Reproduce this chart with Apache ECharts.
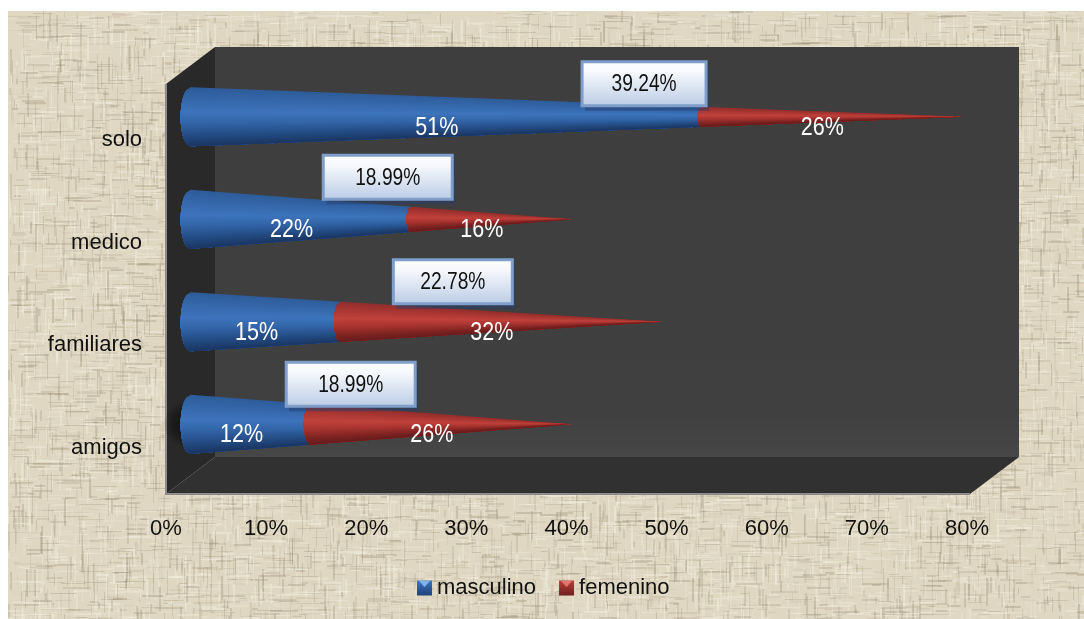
<!DOCTYPE html>
<html>
<head>
<meta charset="utf-8">
<title>masculino / femenino</title>
<style>
  html, body { margin: 0; padding: 0; background: #ffffff; }
  #linen { position: absolute; left: 8px; top: 11px; width: 1076px; height: 608px; }
  #chart { position: absolute; left: 0; top: 0; width: 1084px; height: 619px; }
</style>
<script src="https://cdn.jsdelivr.net/npm/echarts@6/dist/echarts.min.js"></script>
</head>
<body>
<div id="linen"></div>
<div id="chart"></div>
<script>
// Categories run bottom to top on the value chart.
const categories = ['amigos', 'familiares', 'medico', 'solo'];
const masculino = [12, 15, 22, 51];
const femenino = [26, 32, 16, 26];
const totals = [18.99, 22.78, 18.99, 39.24];
const percentTicks = [0, 10, 20, 30, 40, 50, 60, 70, 80];

// Box depth of the 3D plot, in pixels.
const DEPTH_X = 49;
const DEPTH_Y = 37;
const CONE_RADIUS_RATIO = 29.5 / 102.5;
const BASE_ELLIPSE = 10 / 30;
const FONT = '"Liberation Sans", Arial, sans-serif';

// Shading ramps across a cone, top edge to bottom edge.
const BLUE_RAMP = [[0, [46, 92, 154]], [0.22, [54, 104, 172]], [0.42, [62, 116, 188]], [0.62, [50, 100, 166]], [0.85, [34, 72, 126]], [1, [26, 54, 98]]];
const RED_RAMP = [[0, [146, 46, 44]], [0.22, [172, 56, 52]], [0.42, [192, 66, 60]], [0.62, [168, 52, 48]], [0.85, [126, 36, 34]], [1, [104, 28, 28]]];

// Callout placement relative to each cone.
const CALLOUT_BOXES = [
  { center: 16.0, rise: 40, width: 129 },
  { center: 26.2, rise: 40, width: 119 },
  { center: 19.7, rise: 42, width: 129 },
  { center: 45.3, rise: 33, width: 124 }
];
const CALLOUT_HEIGHT = 44;

function rampColor(ramp, t) {
  for (let i = 1; i < ramp.length; i++) {
    if (t <= ramp[i][0]) {
      const a = ramp[i - 1], b = ramp[i];
      const k = (t - a[0]) / (b[0] - a[0]);
      const c = a[1].map((v, j) => Math.round(v + (b[1][j] - v) * k));
      return 'rgb(' + c.join(',') + ')';
    }
  }
  return 'rgb(' + ramp[ramp.length - 1][1].join(',') + ')';
}

// One stretch of a cone lying along the value axis, shaded in strips that converge on the apex.
function coneSection(x0, x1, cy, apex, originX, radius, ramp) {
  const strips = 30;
  const r0 = radius * (apex - x0) / (apex - originX);
  const r1 = radius * (apex - x1) / (apex - originX);
  const rx = r0 * BASE_ELLIPSE;
  const children = [];
  for (let i = 0; i < strips; i++) {
    const topT = -1 + 2 * i / strips;
    const pts = [];
    for (let k = 0; k <= 16; k++) {
      const t = topT + (1 - topT) * k / 16;
      pts.push([x0 - rx * Math.sqrt(Math.max(0, 1 - t * t)), cy + t * r0]);
    }
    pts.push([x1, cy + r1]);
    pts.push([x1, cy + topT * r1]);
    children.push({
      type: 'polygon',
      shape: { points: pts },
      style: { fill: rampColor(ramp, (i + 0.5) / strips) }
    });
  }
  return children;
}

// Condensed white percentage printed on a cone section.
function valueLabel(text, x, y) {
  return {
    type: 'text',
    z2: 50,
    x: x,
    y: y,
    scaleX: 0.86,
    style: { text: text, x: 0, y: 0, fill: '#ffffff', font: '25px ' + FONT, align: 'center', verticalAlign: 'middle' }
  };
}

function renderCone(isUpper) {
  return function (params, api) {
    const i = api.value(2);
    const start = api.value(0);
    const end = api.value(1);
    const size = api.size([0, 1]);
    const radius = size[1] * CONE_RADIUS_RATIO;
    const shift = [DEPTH_X / 2, -DEPTH_Y / 2];
    const cy = api.coord([0, i])[1] + shift[1];
    const originX = api.coord([0, i])[0] + shift[0];
    const apex = api.coord([masculino[i] + femenino[i], i])[0] + shift[0];
    const x0 = api.coord([start, i])[0] + shift[0];
    const x1 = api.coord([end, i])[0] + shift[0];
    const children = [];
    if (!isUpper && i === 0) {
      // Soft dark pool on the side wall behind the lowest cone.
      children.push({
        type: 'ellipse',
        shape: { cx: originX - 3, cy: cy, rx: 24, ry: 46 },
        style: {
          fill: {
            type: 'radial', x: 0.5, y: 0.5, r: 0.5,
            colorStops: [
              { offset: 0, color: 'rgba(12,12,12,0.75)' },
              { offset: 0.6, color: 'rgba(12,12,12,0.5)' },
              { offset: 1, color: 'rgba(12,12,12,0)' }
            ]
          }
        }
      });
    }
    coneSection(x0, x1, cy, apex, originX, radius, isUpper ? RED_RAMP : BLUE_RAMP).forEach(c => children.push(c));
    children.push(valueLabel(Math.round(end - start) + '%', (x0 + x1) / 2 - 9, cy + 11));
    return { type: 'group', children: children };
  };
}

function renderWalls(params, api) {
  const g = params.coordSys;
  const left = g.x, bottom = g.y + g.height, top = g.y, right = g.x + g.width + 3;
  return {
    type: 'group',
    children: [
      { type: 'polygon', shape: { points: [[left + DEPTH_X, top - DEPTH_Y], [right + DEPTH_X, top - DEPTH_Y], [right + DEPTH_X, bottom - DEPTH_Y], [left + DEPTH_X, bottom - DEPTH_Y]] },
        style: { fill: { type: 'linear', x: 0, y: 0, x2: 0, y2: 1, colorStops: [{ offset: 0, color: '#3e3e3e' }, { offset: 0.9, color: '#404040' }, { offset: 1, color: '#474747' }] } } },
      { type: 'polygon', shape: { points: [[left, top], [left + DEPTH_X, top - DEPTH_Y], [left + DEPTH_X, bottom - DEPTH_Y], [left, bottom]] },
        style: { fill: '#292929' } },
      { type: 'polygon', shape: { points: [[left, bottom], [left + DEPTH_X, bottom - DEPTH_Y], [right + DEPTH_X, bottom - DEPTH_Y], [right, bottom]] },
        style: { fill: '#313131' } },
      { type: 'polyline', shape: { points: [[left, top], [left, bottom], [right, bottom]] },
        style: { fill: null, stroke: '#8c8c8c', lineWidth: 2 } }
    ]
  };
}

function renderCallout(params, api) {
  const i = api.value(1);
  const box = CALLOUT_BOXES[i];
  const cx = api.coord([box.center, i])[0] + DEPTH_X / 2;
  const cy = api.coord([0, i])[1] - DEPTH_Y / 2 - box.rise;
  const x = cx - box.width / 2, y = cy - CALLOUT_HEIGHT / 2;
  return {
    type: 'group',
    children: [
      { type: 'rect', shape: { x: x + 3, y: y + 5, width: box.width, height: CALLOUT_HEIGHT },
        style: { fill: 'rgba(38,62,110,0.5)' } },
      { type: 'rect', shape: { x: x, y: y, width: box.width, height: CALLOUT_HEIGHT },
        style: {
          fill: { type: 'linear', x: 0, y: 0, x2: 0, y2: 1, colorStops: [{ offset: 0, color: '#ffffff' }, { offset: 0.25, color: '#f6f8fc' }, { offset: 1, color: '#b9cbe4' }] },
          stroke: '#7f9fca', lineWidth: 3
        } },
      { type: 'text', x: cx, y: cy + 1, scaleX: 0.8,
        style: { text: api.value(0).toFixed(2) + '%', x: 0, y: 0, fill: '#111111', font: '24px ' + FONT, align: 'center', verticalAlign: 'middle' } }
    ]
  };
}

// Woven linen backdrop: short thread strokes with a small fixed generator, softened once at the end.
function weaveLinen(el) {
  const w = el.clientWidth, h = el.clientHeight;
  const raw = document.createElement('canvas');
  raw.width = w; raw.height = h;
  const ctx = raw.getContext('2d');
  ctx.fillStyle = '#e0d7c2';
  ctx.fillRect(0, 0, w, h);
  let s = 20731;
  const rnd = () => { s = (s * 1664525 + 1013904223) >>> 0; return s / 4294967296; };
  for (let n = 0; n < 18000; n++) {
    const horizontal = rnd() < 0.55;
    const x = Math.floor(rnd() * w), y = Math.floor(rnd() * h);
    const len = 5 + rnd() * 24;
    const dark = rnd() < 0.5;
    ctx.fillStyle = dark
      ? 'rgba(150,138,112,' + (0.06 + rnd() * 0.26) + ')'
      : 'rgba(244,240,228,' + (0.08 + rnd() * 0.36) + ')';
    const t = 1 + Math.floor(rnd() * 2);
    if (horizontal) ctx.fillRect(x, y, len, t); else ctx.fillRect(x, y, t, len);
  }
  const soft = document.createElement('canvas');
  soft.width = w; soft.height = h;
  const out = soft.getContext('2d');
  out.filter = 'blur(0.7px)';
  out.drawImage(raw, 0, 0);
  el.appendChild(soft);
}
weaveLinen(document.getElementById('linen'));

const chart = echarts.init(document.getElementById('chart'));

const legendIcon = (name, fill) => ({
  name: name,
  icon: 'rect',
  itemStyle: { color: { type: 'linear', x: 0, y: 0, x2: 0, y2: 1, colorStops: fill } }
});

// Light notch on each legend swatch, echoing the bevelled chart style.
const swatchNotch = (left, top, color) => ({
  type: 'polygon',
  z: 100,
  shape: { points: [[left + 2, top], [left + 13, top], [left + 7.5, top + 6]] },
  style: { fill: color }
});

chart.setOption({
  animation: false,
  backgroundColor: 'transparent',
  grid: { left: 166, right: 117, top: 84, bottom: 125, containLabel: false },
  xAxis: {
    type: 'value',
    min: percentTicks[0],
    max: percentTicks[percentTicks.length - 1],
    interval: 10,
    axisLine: { show: false },
    axisTick: { show: false },
    splitLine: { show: false },
    axisLabel: { formatter: '{value}%', color: '#111111', fontSize: 22, fontFamily: FONT, margin: 24 }
  },
  yAxis: {
    type: 'category',
    data: categories,
    axisLine: { show: false },
    axisTick: { show: false },
    splitLine: { show: false },
    axisLabel: { color: '#111111', fontSize: 22, fontFamily: FONT, margin: 24, lineHeight: 10, verticalAlign: 'top' }
  },
  legend: {
    left: 412,
    top: 572,
    itemWidth: 15,
    itemHeight: 15,
    itemGap: 23,
    selectedMode: false,
    textStyle: { color: '#111111', fontSize: 22, fontFamily: FONT },
    data: [
      legendIcon('masculino', [{ offset: 0, color: '#3d74bd' }, { offset: 1, color: '#1d4379' }]),
      legendIcon('femenino', [{ offset: 0, color: '#b8403c' }, { offset: 1, color: '#6f1e1e' }])
    ]
  },
  graphic: [swatchNotch(417, 581, '#7fb2ea'), swatchNotch(559, 581, '#e2736e')],
  series: [
    {
      name: 'walls', type: 'custom', z: 1, silent: true,
      renderItem: renderWalls,
      data: [[0, 0]],
      encode: { x: 0, y: 1 }
    },
    {
      name: 'masculino', type: 'custom', z: 3, clip: false,
      itemStyle: { color: '#3566a8' },
      renderItem: renderCone(false),
      data: masculino.map((v, i) => [0, v, i]),
      encode: { x: [0, 1], y: 2 }
    },
    {
      name: 'femenino', type: 'custom', z: 4, clip: false,
      itemStyle: { color: '#b03a36' },
      renderItem: renderCone(true),
      data: femenino.map((v, i) => [masculino[i], masculino[i] + v, i]),
      encode: { x: [0, 1], y: 2 }
    },
    {
      name: 'total', type: 'custom', z: 5, clip: false, silent: true,
      renderItem: renderCallout,
      data: totals.map((v, i) => [v, i]),
      encode: { y: 1 }
    }
  ]
});
</script>
</body>
</html>
